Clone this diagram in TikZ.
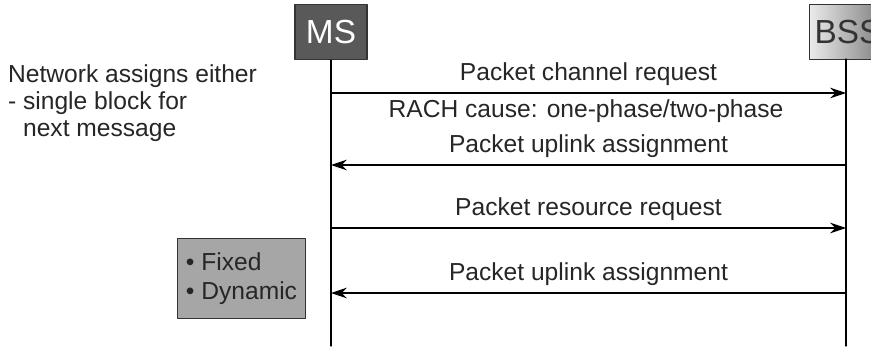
\documentclass[tikz,border=0pt]{standalone}
\usepackage{fontspec}
\setmainfont{Liberation Sans}
\usetikzlibrary{arrows.meta}
\tikzset{
  entity/.style={draw=black!80,line width=0.6pt,minimum height=1.1cm,inner sep=2pt,font=\fontsize{19}{22}\selectfont},
  msg/.style={line width=0.6pt,-{Stealth[length=9pt,width=6pt]}},
  lbl/.style={inner sep=1pt,font=\fontsize{14}{15.3}\selectfont,text=black!85},
}
\begin{document}
\begin{tikzpicture}[x=0.02cm,y=-0.02cm,line cap=round,line join=round]
  \useasboundingbox[fill=white] (0,0) rectangle (871,348);
  % entities
  \node[entity,fill=black!65,text=white,minimum width=1.44cm,anchor=north] (ms) at (331,4) {MS};
  \begin{scope}
    \clip (0,0) rectangle (871,348);
    \node[entity,left color=black!8,right color=black!45,text=black!80,minimum width=1.3cm,anchor=north west,text width=1.1cm] (bss) at (809,4) {BSS};
  \end{scope}
  \coordinate (msend) at (331,346);
  \coordinate (bssend) at (846,346);
  \draw[line width=0.6pt] (ms.south) -- (msend);
  \draw[line width=0.6pt] (846,59) -- (bssend);
  % message rows
  \coordinate (ms1) at (331,93);  \coordinate (bss1) at (846,93);
  \coordinate (ms2) at (331,165); \coordinate (bss2) at (846,165);
  \coordinate (ms3) at (331,228); \coordinate (bss3) at (846,228);
  \coordinate (ms4) at (331,293); \coordinate (bss4) at (846,293);
  \draw[msg] (ms1) -- (bss1) node[lbl,midway,above=3pt] (m1) {Packet channel request};
  \node[lbl,anchor=center] (rach) at (586,111) {RACH cause: one-phase/two-phase};
  \draw[msg] (bss2) -- (ms2) node[lbl,midway,above=3pt] (m2) {Packet uplink assignment};
  \draw[msg] (ms3) -- (bss3) node[lbl,midway,above=3pt] (m3) {Packet resource request};
  \draw[msg] (bss4) -- (ms4) node[lbl,midway,above=3pt] (m4) {Packet uplink assignment};
  % notes
  \node[lbl,anchor=north west,align=left] (note) at (6,63) {Network assigns either\\- single block for\\\phantom{- }next message};
  \node[lbl,draw=black!80,line width=0.6pt,fill=black!35,anchor=north west,align=left,minimum width=2.56cm,minimum height=1.6cm,inner sep=3pt] (alloc) at (177,238) {\textbullet\ Fixed\\[1pt]\textbullet\ Dynamic};
\end{tikzpicture}
\end{document}
